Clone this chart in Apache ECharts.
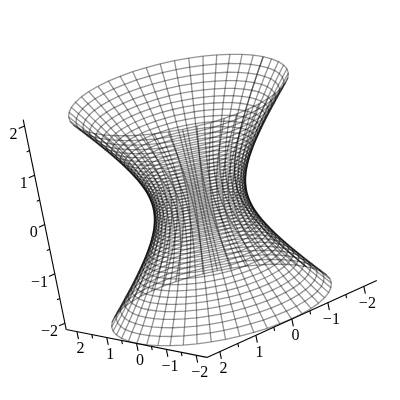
<!DOCTYPE html>
<html>
<head>
<meta charset="utf-8">
<style>
html,body{margin:0;padding:0;background:#fff}
#main{width:400px;height:400px}
</style>
<script src="https://cdn.jsdelivr.net/npm/echarts@6/dist/echarts.min.js"></script>
</head>
<body>
<div id="main"></div>
<script>
// surface rings: height and radius of each ring, bottom to top
const ringZ = [-2.129,-1.987,-1.852,-1.723,-1.602,-1.487,-1.378,-1.274,-1.175,-1.081,-0.991,-0.905,-0.822,-0.743,-0.667,-0.593,-0.521,-0.452,-0.384,-0.318,-0.253,-0.189,-0.125,-0.063,0,
  0.063,0.125,0.189,0.253,0.318,0.384,0.452,0.521,0.593,0.667,0.743,0.822,0.905,0.991,1.081,1.175,1.274,1.378,1.487,1.602,1.723,1.852,1.987,2.129];
const ringR = [2.352,2.225,2.104,1.993,1.888,1.792,1.702,1.620,1.543,1.473,1.408,1.349,1.295,1.246,1.202,1.163,1.128,1.097,1.071,1.049,1.031,1.018,1.008,1.002,1,
  1.002,1.008,1.018,1.031,1.049,1.071,1.097,1.128,1.163,1.202,1.246,1.295,1.349,1.408,1.473,1.543,1.620,1.702,1.792,1.888,1.993,2.104,2.225,2.352];
// meridian angles in degrees, the seam is drawn twice
const angles = [-180,-172.5,-165,-157.5,-150,-142.5,-135,-127.5,-120,-112.5,-105,-97.5,-90,-82.5,-75,-67.5,-60,-52.5,-45,-37.5,-30,-22.5,-15,-7.5,0,
  7.5,15,22.5,30,37.5,45,52.5,60,67.5,75,82.5,90,97.5,105,112.5,120,127.5,135,142.5,150,157.5,165,172.5,180];

const xTicks = [-2,-1,0,1,2];
const yTicks = [-2,-1,0,1,2];
const zTicks = [-2,-1,0,1,2];
const minorTicks = [-1.5,-0.5,0.5,1.5];
const tickText = {'-2':'\u22122','-1':'\u22121','0':'0','1':'1','2':'2'};

// box limits
const xMax = 2.36, yMax = 2.36, zMax = 2.13;

// orthographic view, screen units per data unit
const viewH = [-36, -29.8, -10.1];
const viewV = [-16.3, 5.9, 49.3];
function project(x, y, z){
    return [
        viewH[0]*x + viewH[1]*y + viewH[2]*z,
        viewV[0]*x + viewV[1]*y + viewV[2]*z
    ];
}

const series = [];
const meshStyle = {color:'#000', width:1.3, opacity:0.42};
function meshLine(points){
    series.push({type:'line', data:points, symbol:'none', silent:true, clip:false, lineStyle:meshStyle});
}
function axisLine(a, b){
    series.push({type:'line', data:[project(...a),project(...b)], symbol:'none', silent:true, clip:false,
        lineStyle:{color:'#000', width:1.1}});
}

ringZ.forEach((z,i)=>{
    meshLine(angles.map(a=>{
        const t = a*Math.PI/180;
        return project(ringR[i]*Math.cos(t), ringR[i]*Math.sin(t), z);
    }));
});
angles.forEach(a=>{
    const t = a*Math.PI/180;
    meshLine(ringZ.map((z,i)=>project(ringR[i]*Math.cos(t), ringR[i]*Math.sin(t), z)));
});

// box edges
axisLine([xMax,yMax,-zMax],[xMax,yMax,zMax]);
axisLine([xMax,yMax,-zMax],[xMax,-yMax,-zMax]);
axisLine([xMax,-yMax,-zMax],[-xMax,-yMax,-zMax]);

// ticks
zTicks.forEach(v=>axisLine([xMax,yMax,v],[xMax+0.16,yMax,v]));
minorTicks.forEach(v=>axisLine([xMax,yMax,v],[xMax+0.08,yMax,v]));
yTicks.forEach(v=>axisLine([xMax,v,-zMax],[xMax,v,-zMax-0.15]));
minorTicks.forEach(v=>axisLine([xMax,v,-zMax],[xMax,v,-zMax-0.075]));
xTicks.forEach(v=>axisLine([v,-yMax,-zMax],[v,-yMax,-zMax-0.15]));
minorTicks.forEach(v=>axisLine([v,-yMax,-zMax],[v,-yMax,-zMax-0.075]));

// tick labels
function labelSeries(points, align){
    series.push({
        type:'scatter', symbolSize:1, silent:true, clip:false,
        itemStyle:{color:'transparent'},
        data:points.map(p=>({value:p.pos, name:p.text})),
        label:{show:true, position:'inside', formatter:'{b}', align:align, verticalAlign:'middle',
            fontFamily:'Liberation Serif', fontSize:16, color:'#000', opacity:1}
    });
}
labelSeries(zTicks.map(v=>({pos:project(xMax+0.22,yMax,v-0.1), text:tickText[v]})),'right');
labelSeries(yTicks.map(v=>({pos:project(xMax,v,-zMax-0.35), text:tickText[v]})),'center');
labelSeries(xTicks.map(v=>({pos:project(v,-yMax,-zMax-0.35), text:tickText[v]})),'center');

const myChart = echarts.init(document.getElementById('main'),null,{renderer:'canvas'});
myChart.setOption({
    animation:false,
    backgroundColor:'#fff',
    grid:{left:0,right:0,top:0,bottom:0},
    xAxis:{type:'value', min:-200, max:200, show:false},
    yAxis:{type:'value', min:-200, max:200, show:false},
    series:series
});
</script>
</body>
</html>
